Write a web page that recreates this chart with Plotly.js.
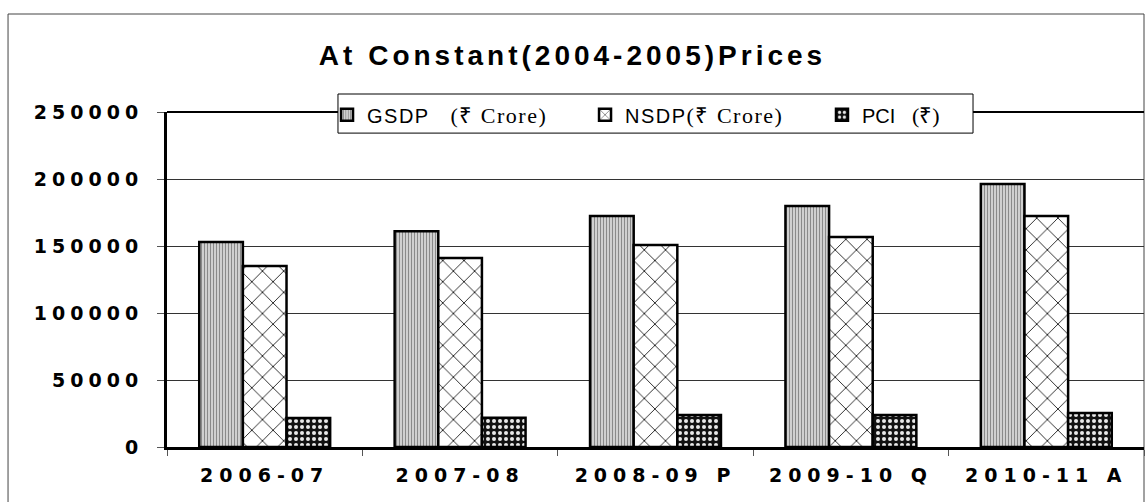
<!DOCTYPE html>
<html>
<head>
<meta charset="utf-8">
<script src="https://cdn.plot.ly/plotly-3.0.1.min.js"></script>
<style>
	html, body { margin: 0; padding: 0; background: #fff; }
	#chart-div { width: 1145px; height: 502px; }
	/* excel-style spread out bold labels */
	.ytick text { letter-spacing: 5px; }
	.xtick text { letter-spacing: 6px; }
	.gtitle { letter-spacing: 4px; }
	.legendtext { letter-spacing: 1.5px; }
</style>
</head>
<body>
<div id="chart-div"></div>
<script>
// chart data
const years = ["2006-07", "2007-08", "2008-09 P", "2009-10 Q", "2010-11 A"];
const gsdp = [153000, 161000, 172300, 179800, 196200];
const nsdp = [135000, 141000, 150700, 156700, 172300];
const pci = [21600, 21900, 23900, 23900, 25400];

const serifSpan = (t) =>
	'<span style="font-family:\'Liberation Serif\', \'Times New Roman\', serif;font-size:22px">' + t + '</span>';

function drawChart() {

	// bar series with hatch patterns
	const barLine = { color: "#000", width: 2.5 };
	const data = [
		{
			type: "bar",
			x: years,
			y: gsdp,
			name: "GSDP   " + serifSpan("(₹ Crore)"),
			legend: "legend",
			marker: {
				line: barLine,
				pattern: { shape: "|", bgcolor: "#d8d8d8", fgcolor: "#8a8a8a", size: 3, solidity: 0.4 },
			},
		},
		{
			type: "bar",
			x: years,
			y: nsdp,
			name: "NSDP" + serifSpan("(₹ Crore)"),
			legend: "legend",
			marker: {
				line: barLine,
				pattern: { shape: "x", bgcolor: "#fff", fgcolor: "#222", size: 15, solidity: 0.12 },
			},
		},
		{
			type: "bar",
			x: years,
			y: pci,
			name: "PCI   " + serifSpan("(₹)"),
			legend: "legend2",
			marker: {
				line: barLine,
				pattern: { shape: ".", bgcolor: "#111", fgcolor: "#e8e8e8", size: 6, solidity: 0.35 },
			},
		},
	];

	const tickFont = { family: "DejaVu Sans, Arial, sans-serif", size: 19, color: "#000", weight: "bold" };
	const legendFont = { family: "Liberation Sans, Arial, sans-serif", size: 20, color: "#000" };

	// layout
	const layout = {
		width: 1145,
		height: 502,
		autosize: false,
		paper_bgcolor: "#fff",
		plot_bgcolor: "#fff",
		margin: { l: 167, r: 1, t: 112, b: 55 },
		title: {
			text: "<b>At Constant(2004-2005)Prices</b>",
			font: { family: "Liberation Sans, Arial, sans-serif", size: 28, color: "#000" },
			x: 0.5,
			xref: "container",
			y: 0.89,
			yanchor: "middle",
		},
		barmode: "group",
		bargap: 0.33,
		bargroupgap: 0,
		xaxis: {
			type: "category",
			showline: true,
			linecolor: "#000",
			linewidth: 2.5,
			ticks: "outside",
			tickson: "boundaries",
			ticklen: 6,
			tickcolor: "#555",
			tickfont: tickFont,
			ticklabelstandoff: 10,
			showgrid: false,
			zeroline: false,
		},
		yaxis: {
			range: [0, 250000],
			dtick: 50000,
			tickformat: "d",
			showline: true,
			linecolor: "#000",
			linewidth: 3,
			ticks: "outside",
			ticklen: 7,
			tickcolor: "#555",
			tickfont: tickFont,
			ticklabelstandoff: 10,
			showgrid: true,
			gridcolor: "#333",
			gridwidth: 1,
			zeroline: false,
		},
		showlegend: true,
		// gsdp + nsdp entries
		legend: {
			orientation: "h",
			x: 0.1638,
			xanchor: "left",
			y: 1.05,
			yanchor: "top",
			bgcolor: "rgba(0,0,0,0)",
			borderwidth: 0,
			entrywidth: 213,
			traceorder: "normal",
			font: legendFont,
		},
		// pci entry
		legend2: {
			orientation: "h",
			x: 0.6704,
			xanchor: "left",
			y: 1.05,
			yanchor: "top",
			bgcolor: "rgba(0,0,0,0)",
			borderwidth: 0,
			font: legendFont,
		},
		shapes: [
			// outer chart frame
			{
				type: "rect", xref: "paper", yref: "paper",
				x0: -0.1627, x1: 1.0, y0: -0.5, y1: 1.2925,
				line: { color: "#444", width: 1 },
				layer: "below",
			},
			// heavier top line of plot area
			{
				type: "line", xref: "paper", yref: "paper",
				x0: 0, x1: 1, y0: 1, y1: 1,
				line: { color: "#000", width: 2 },
				layer: "below",
			},
			// legend box
			{
				type: "rect", xref: "paper", yref: "paper",
				x0: 0.175, x1: 0.825, y0: 0.937, y1: 1.0537,
				fillcolor: "#fff",
				line: { color: "#000", width: 1 },
				layer: "above",
			},
		],
	};

	const config = { displayModeBar: false, staticPlot: true };

	Plotly.newPlot("chart-div", data, layout, config);
}

drawChart();
</script>
</body>
</html>
